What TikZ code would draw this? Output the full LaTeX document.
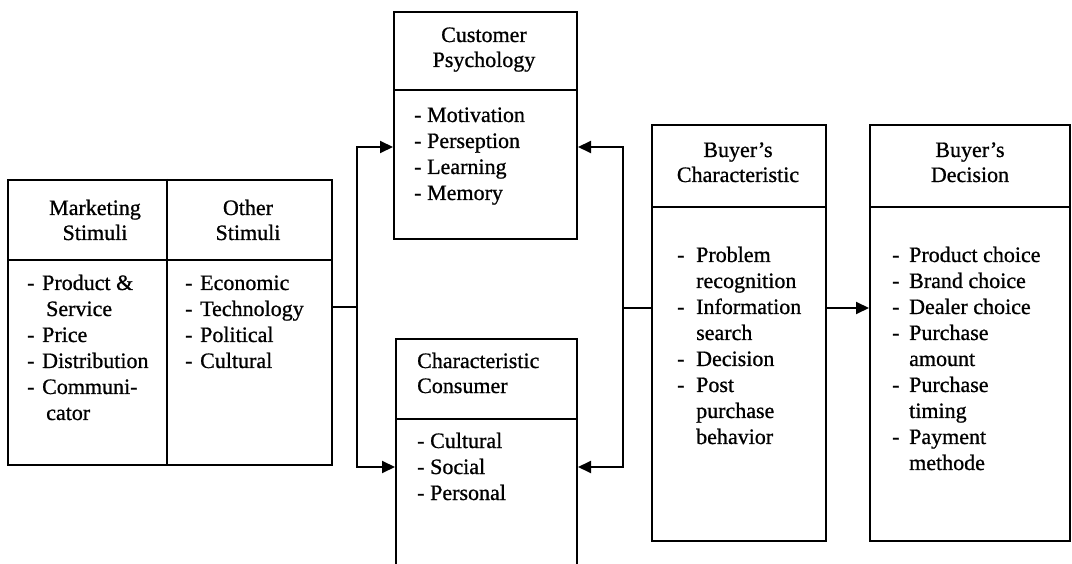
\documentclass[tikz,border=0pt]{standalone}
\usepackage{fontspec}
\setmainfont{Liberation Serif}[FakeBold=0.8]
\usetikzlibrary{arrows.meta}
\tikzset{
  box/.style={draw, line width=2pt, inner sep=0pt, rectangle},
  sep/.style={line width=2pt},
  conn/.style={line width=2pt},
  arr/.style={conn, -{Triangle[length=13pt,width=12pt]}},
  txt/.style={inner sep=0pt, font=\fontsize{22}{26}\selectfont},
  hdr/.style={inner sep=0pt, font=\fontsize{22}{25}\selectfont},
}
\begin{document}
\begin{tikzpicture}[x=1pt,y=-1pt]
\useasboundingbox (0,0) rectangle (1072,564);
\fill[white] (0,0) rectangle (1072,564);
\clip (0,0) rectangle (1072,564);

% boxes
\node[box, minimum width=324pt, minimum height=285pt] (ms) at (170,322.5) {};
\node[box, minimum width=183pt, minimum height=227pt] (cp) at (485.5,125.5) {};
\node[box, minimum width=181pt, minimum height=261pt] (cc) at (486.5,469.5) {};
\node[box, minimum width=174pt, minimum height=416pt] (bc) at (739,333) {};
\node[box, minimum width=200pt, minimum height=416pt] (bd) at (970,333) {};

% dividers
\draw[sep] (167,0 |- ms.north) -- (167,0 |- ms.south);
\draw[sep] (ms.west |- 0,260) -- (ms.east |- 0,260);
\draw[sep] (cp.west |- 0,90) -- (cp.east |- 0,90);
\draw[sep] (cc.west |- 0,419) -- (cc.east |- 0,419);
\draw[sep] (bc.west |- 0,207) -- (bc.east |- 0,207);
\draw[sep] (bd.west |- 0,207) -- (bd.east |- 0,207);

% headers
\node[hdr, anchor=base] (msh) at (95,215) {\begin{tabular}[t]{@{}c@{}}Marketing\\Stimuli\end{tabular}};
\node[hdr, anchor=base] (osh) at (248,215) {\begin{tabular}[t]{@{}c@{}}Other\\Stimuli\end{tabular}};
\node[hdr, anchor=base] (cph) at (484,42) {\begin{tabular}[t]{@{}c@{}}Customer\\Psychology\end{tabular}};
\node[hdr, anchor=base west] (cch) at (417,368) {\begin{tabular}[t]{@{}l@{}}Characteristic\\Consumer\end{tabular}};
\node[hdr, anchor=base] (bch) at (738,157) {\begin{tabular}[t]{@{}c@{}}Buyer's\\Characteristic\end{tabular}};
\node[hdr, anchor=base] (bdh) at (970,157) {\begin{tabular}[t]{@{}c@{}}Buyer's\\Decision\end{tabular}};

% lists
\node[txt, anchor=base west] (msl) at (27,290) {\begin{tabular}[t]{@{}p{15pt}@{}l@{}}
- & Product \&\\ & \hspace{4pt}Service\\ - & Price\\ - & Distribution\\ - & Communi-\\ & \hspace{4pt}cator\end{tabular}};
\node[txt, anchor=base west] (osl) at (185,290) {\begin{tabular}[t]{@{}p{15pt}@{}l@{}}
- & Economic\\ - & Technology\\ - & Political\\ - & Cultural\end{tabular}};
\node[txt, anchor=base west] (cpl) at (414,122) {\begin{tabular}[t]{@{}p{13pt}@{}l@{}}
- & Motivation\\ - & Perseption\\ - & Learning\\ - & Memory\end{tabular}};
\node[txt, anchor=base west] (ccl) at (417,448) {\begin{tabular}[t]{@{}p{13pt}@{}l@{}}
- & Cultural\\ - & Social\\ - & Personal\end{tabular}};
\node[txt, anchor=base west] (bcl) at (677,262) {\begin{tabular}[t]{@{}p{19pt}@{}l@{}}
- & Problem\\ & recognition\\ - & Information\\ & search\\ - & Decision\\ - & Post\\ & purchase\\ & behavior\end{tabular}};
\node[txt, anchor=base west] (bdl) at (892,262) {\begin{tabular}[t]{@{}p{17pt}@{}l@{}}
- & Product choice\\ - & Brand choice\\ - & Dealer choice\\ - & Purchase\\ & amount\\ - & Purchase\\ & timing\\ - & Payment\\ & methode\end{tabular}};

% connectors
\coordinate (jl) at (357,307);
\coordinate (jlt) at (357,147);
\coordinate (jlb) at (357,467);
\coordinate (jr) at (623,308);
\coordinate (jrt) at (623,147);
\coordinate (jrb) at (623,467);
\draw[conn] (ms.east |- jl) -- (jl);
\draw[arr] (jl) -- (jlt) -- (cp.west |- jlt);
\draw[arr] (jl) -- (jlb) -- (cc.west |- jlb);
\draw[conn] (bc.west |- jr) -- (jr);
\draw[arr] (jr) -- (jrt) -- (cp.east |- jrt);
\draw[arr] (jr) -- (jrb) -- (cc.east |- jrb);
\draw[arr] (bc.east |- jr) -- (bd.west |- jr);
\end{tikzpicture}
\end{document}
